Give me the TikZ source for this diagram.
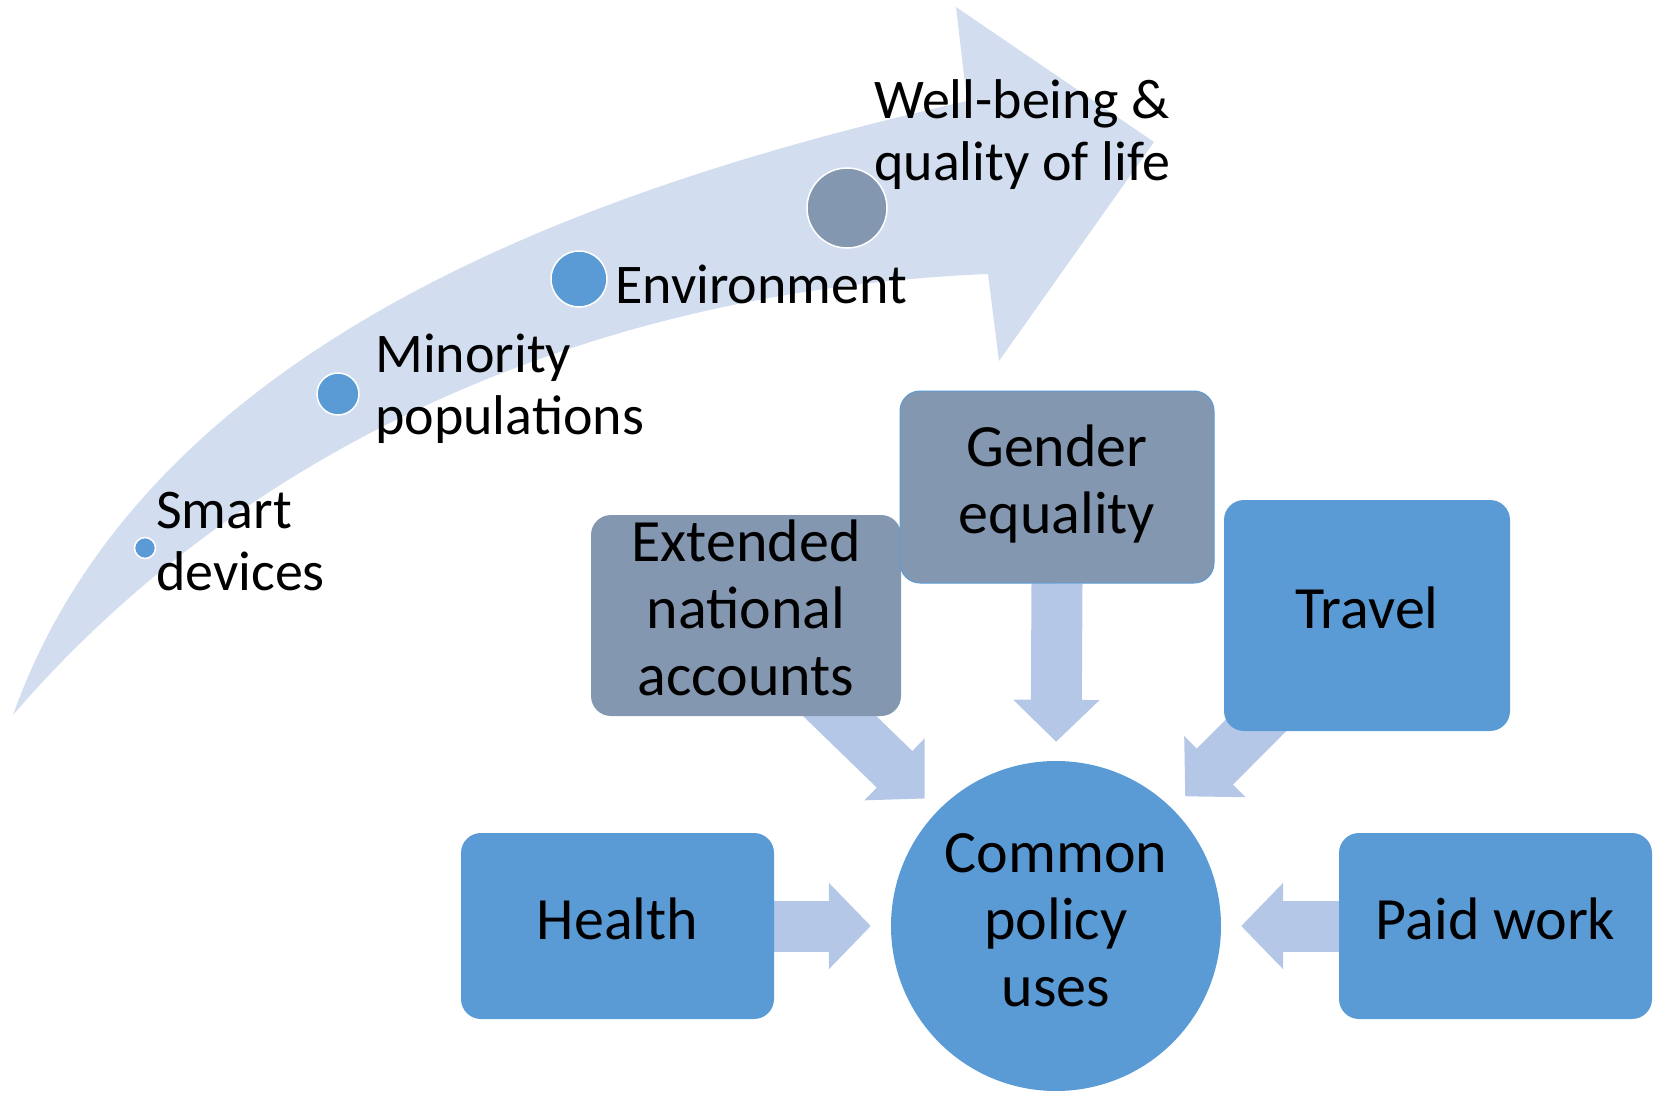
\documentclass[tikz,border=0pt]{standalone}
\usepackage{fontspec}
\setmainfont{Carlito}
\usetikzlibrary{arrows.meta,backgrounds}
\definecolor{bandclr}{HTML}{D2DEEF}
\definecolor{blk}{HTML}{B4C7E7}
\definecolor{bluebox}{HTML}{5B9BD5}
\definecolor{greybox}{HTML}{8497B0}
\begin{document}
\begin{tikzpicture}[x=1pt,y=-1pt,
 lab/.style={font=\fontsize{56}{62}\selectfont, inner sep=0pt, align=left, anchor=north west, text=black},
 dot/.style={circle, draw=white, line width=1.5pt, inner sep=0pt},
 box/.style={rectangle, rounded corners=20pt, inner sep=0pt, font=\fontsize{60}{67}\selectfont, align=center, text=black},
 blockarrow/.style={draw=blk, line width=51pt, -{Triangle[length=42pt,width=84pt]}},
]
\useasboundingbox (0,0) rectangle (1666,1094);
% curved band arrow
\fill[bandclr] (13,715) .. controls (150,330) and (620,180) .. (967,101)
  -- (956,7) -- (1154,142) -- (999,361) -- (988,274)
  .. controls (600,290) and (250,440) .. (13,715) -- cycle;
% dots
\node[dot, fill=bluebox, minimum size=21pt] (d1) at (145,548) {};
\node[dot, fill=bluebox, minimum size=42pt] (d2) at (338,394) {};
\node[dot, fill=bluebox, minimum size=56pt] (d3) at (579,279) {};
\node[dot, fill=greybox, minimum size=80pt] (d4) at (847,208) {};
% labels
\node[lab] (t1) at (156,484.6) {\strut Smart\\\strut devices};
\node[lab] (t2) at (375,328.6) {\strut Minority\\\strut populations};
\node[lab, anchor=base west] (t3) at (615,304) {Environment};
\node[lab] (t4) at (874,75.3) {\strut Well-being \&\\\strut quality of life};
% boxes
\node[box, fill=greybox, minimum width=310pt, minimum height=185pt] (ext) at (746,615.5) {\strut Extended\\\strut national\\\strut accounts};
\node[box, fill=greybox, draw=bluebox, line width=1pt, minimum width=314pt, minimum height=192pt] (gender) at (1057,487) {\strut Gender\\\strut equality};
\node[box, fill=bluebox, minimum width=286pt, minimum height=231pt] (travel) at (1367,615.5) {\strut Travel};
\node[box, fill=bluebox, minimum width=313pt, minimum height=186pt] (health) at (617.5,926) {\strut Health};
\node[box, fill=bluebox, minimum width=313pt, minimum height=186pt] (paid) at (1495.5,926) {\strut Paid work};
\node[circle, fill=bluebox, minimum size=330pt, inner sep=0pt, font=\fontsize{60}{67}\selectfont, align=center, text=black] (circ) at (1056,926) {\strut Common\\\strut policy\\\strut uses};
% block arrows
\begin{scope}[on background layer]
\draw[blockarrow, shorten >=20pt] (health.east) -- (circ.west);
\draw[blockarrow, shorten >=20pt] (paid.west) -- (circ.east);
\draw[blockarrow, shorten >=19pt] (gender.south) -- (circ.north);
\draw[blockarrow, shorten >=183pt] ([xshift=65pt,yshift=28pt]ext.south) -- (circ.center);
\draw[blockarrow, shorten >=183pt] ([xshift=-66pt,yshift=51pt]travel.south) -- (circ.center);
\end{scope}
\end{tikzpicture}
\end{document}
